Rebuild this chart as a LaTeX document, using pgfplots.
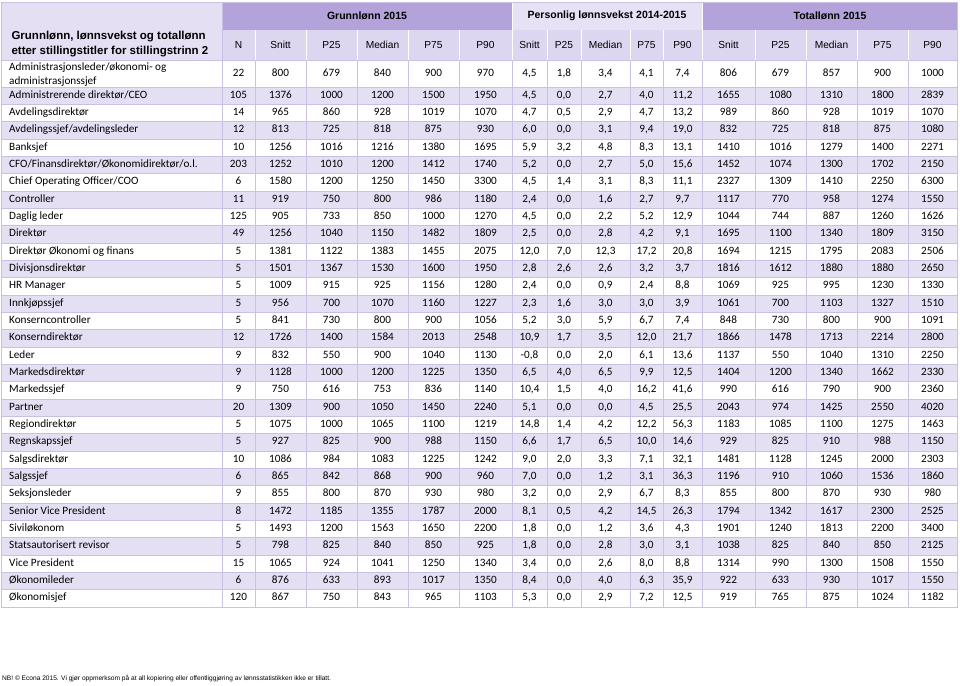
\documentclass[border=0pt]{standalone}
\usepackage{pgfplots}
\pgfplotsset{compat=1.18}
\usepackage{pgfplotstable}
\usepackage{fontspec}
\setmainfont{Carlito}
\newfontfamily\arial{Liberation Sans}
\definecolor{band}{HTML}{B3A3DA}
\definecolor{hdrbg}{HTML}{DDD6F0}
\definecolor{lhdr}{HTML}{E4DFF3}
\definecolor{lband}{HTML}{E6E1F4}
\definecolor{rowlav}{HTML}{E4DFF3}
\definecolor{gridc}{HTML}{C9C0E4}

\pgfplotstableread[col sep=semicolon]{
y;name;n;gs;gp25;gm;gp75;gp90;ps;pp25;pm;pp75;pp90;ts;tp25;tm;tp75;tp90
74;X;22;800;679;840;900;970;4,5;1,8;3,4;4,1;7,4;806;679;857;900;1000
95.7;Administrerende direktør/CEO;105;1376;1000;1200;1500;1950;4,5;0,0;2,7;4,0;11,2;1655;1080;1310;1800;2839
113.0;Avdelingsdirektør;14;965;860;928;1019;1070;4,7;0,5;2,9;4,7;13,2;989;860;928;1019;1070
130.3;Avdelingssjef/avdelingsleder;12;813;725;818;875;930;6,0;0,0;3,1;9,4;19,0;832;725;818;875;1080
147.7;Banksjef;10;1256;1016;1216;1380;1695;5,9;3,2;4,8;8,3;13,1;1410;1016;1279;1400;2271
165.0;CFO/Finansdirektør/Økonomidirektør/o.l.;203;1252;1010;1200;1412;1740;5,2;0,0;2,7;5,0;15,6;1452;1074;1300;1702;2150
182.3;Chief Operating Officer/COO;6;1580;1200;1250;1450;3300;4,5;1,4;3,1;8,3;11,1;2327;1309;1410;2250;6300
199.7;Controller;11;919;750;800;986;1180;2,4;0,0;1,6;2,7;9,7;1117;770;958;1274;1550
217.0;Daglig leder;125;905;733;850;1000;1270;4,5;0,0;2,2;5,2;12,9;1044;744;887;1260;1626
234.3;Direktør;49;1256;1040;1150;1482;1809;2,5;0,0;2,8;4,2;9,1;1695;1100;1340;1809;3150
251.7;Direktør Økonomi og finans;5;1381;1122;1383;1455;2075;12,0;7,0;12,3;17,2;20,8;1694;1215;1795;2083;2506
269.0;Divisjonsdirektør;5;1501;1367;1530;1600;1950;2,8;2,6;2,6;3,2;3,7;1816;1612;1880;1880;2650
286.3;HR Manager;5;1009;915;925;1156;1280;2,4;0,0;0,9;2,4;8,8;1069;925;995;1230;1330
303.7;Innkjøpssjef;5;956;700;1070;1160;1227;2,3;1,6;3,0;3,0;3,9;1061;700;1103;1327;1510
321.0;Konserncontroller;5;841;730;800;900;1056;5,2;3,0;5,9;6,7;7,4;848;730;800;900;1091
338.3;Konserndirektør;12;1726;1400;1584;2013;2548;10,9;1,7;3,5;12,0;21,7;1866;1478;1713;2214;2800
355.7;Leder;9;832;550;900;1040;1130;-0,8;0,0;2,0;6,1;13,6;1137;550;1040;1310;2250
373.0;Markedsdirektør;9;1128;1000;1200;1225;1350;6,5;4,0;6,5;9,9;12,5;1404;1200;1340;1662;2330
390.3;Markedssjef;9;750;616;753;836;1140;10,4;1,5;4,0;16,2;41,6;990;616;790;900;2360
407.7;Partner;20;1309;900;1050;1450;2240;5,1;0,0;0,0;4,5;25,5;2043;974;1425;2550;4020
425.0;Regiondirektør;5;1075;1000;1065;1100;1219;14,8;1,4;4,2;12,2;56,3;1183;1085;1100;1275;1463
442.3;Regnskapssjef;5;927;825;900;988;1150;6,6;1,7;6,5;10,0;14,6;929;825;910;988;1150
459.7;Salgsdirektør;10;1086;984;1083;1225;1242;9,0;2,0;3,3;7,1;32,1;1481;1128;1245;2000;2303
477.0;Salgssjef;6;865;842;868;900;960;7,0;0,0;1,2;3,1;36,3;1196;910;1060;1536;1860
494.3;Seksjonsleder;9;855;800;870;930;980;3,2;0,0;2,9;6,7;8,3;855;800;870;930;980
511.7;Senior Vice President;8;1472;1185;1355;1787;2000;8,1;0,5;4,2;14,5;26,3;1794;1342;1617;2300;2525
529.0;Siviløkonom;5;1493;1200;1563;1650;2200;1,8;0,0;1,2;3,6;4,3;1901;1240;1813;2200;3400
546.3;Statsautorisert revisor;5;798;825;840;850;925;1,8;0,0;2,8;3,0;3,1;1038;825;840;850;2125
563.7;Vice President;15;1065;924;1041;1250;1340;3,4;0,0;2,6;8,0;8,8;1314;990;1300;1508;1550
581.0;Økonomileder;6;876;633;893;1017;1350;8,4;0,0;4,0;6,3;35,9;922;633;930;1017;1550
598.3;Økonomisjef;120;867;750;843;965;1103;5,3;0,0;2,9;7,2;12,5;919;765;875;1024;1182
}\data

\newcommand\numfont{\fontsize{11.2}{13}\selectfont}
\newcommand\hdrfont{\arial\fontsize{10.2}{12}\selectfont}
\tikzset{colhead/.style={font=\hdrfont, inner sep=0pt, text height=0.72em, text depth=0.2em, anchor=center}}
\newcommand\col[2]{%
  \addplot[draw=none, mark=none, point meta=explicit symbolic,
    nodes near coords={\pgfplotspointmeta},
    every node near coord/.append style={anchor=center, inner sep=0pt,
      text height=0.68em, text depth=0.2em, font=\numfont, text=black}]
    table[x expr=#1, y=y, meta=#2] {\data};}

\begin{document}
\begin{tikzpicture}
\begin{axis}[width=960pt, height=685pt, scale only axis,
  xmin=0, xmax=960, ymin=0, ymax=685, y dir=reverse,
  hide axis, clip=false]
% backgrounds
\fill[white] (axis cs:0,0) rectangle (axis cs:960,685);
\fill[lhdr] (axis cs:1,2) rectangle (axis cs:222,60);
\fill[band] (axis cs:222,2) rectangle (axis cs:512,30);
\fill[lband] (axis cs:512,2) rectangle (axis cs:702,30);
\fill[band] (axis cs:702,2) rectangle (axis cs:957,30);
\fill[hdrbg] (axis cs:222,30) rectangle (axis cs:957,60);
\pgfplotsinvokeforeach{0,2,...,28}{%
  \fill[rowlav] (axis cs:1,{87+17.333*#1}) rectangle (axis cs:957,{87+17.333*(#1+1)});}
% grid
\pgfplotsinvokeforeach{0,...,30}{%
  \draw[gridc, line width=0.8pt] (axis cs:1,{87+17.333*#1}) -- (axis cs:957,{87+17.333*#1});}
\draw[gridc, line width=0.8pt] (axis cs:1,60) -- (axis cs:957,60);
\pgfplotsinvokeforeach{255,306,357,408,459,512,547,581,630,663,702,755,806,857,908}{%
  \draw[gridc, line width=0.8pt] (axis cs:#1,60) -- (axis cs:#1,607);
  \draw[white, line width=0.8pt] (axis cs:#1,30) -- (axis cs:#1,60);}
\draw[gridc, line width=0.8pt] (axis cs:222,2) -- (axis cs:222,607);
\draw[white, line width=0.8pt] (axis cs:512,2) -- (axis cs:512,30);
\draw[white, line width=0.8pt] (axis cs:702,2) -- (axis cs:702,30);
\draw[gridc, line width=0.8pt] (axis cs:1,2) rectangle (axis cs:957,607);
% header text
\node[anchor=west, font=\arial\bfseries\fontsize{11.5}{13}\selectfont] at (axis cs:8,37) {Grunnlønn, lønnsvekst og totallønn};
\node[anchor=west, font=\arial\bfseries\fontsize{11.5}{13}\selectfont] at (axis cs:8,51.5) {etter stillingstitler for stillingstrinn 2};
\node[font=\arial\bfseries\fontsize{10.5}{12}\selectfont] at (axis cs:367,16) {Grunnlønn 2015};
\node[font=\arial\bfseries\fontsize{10.5}{12}\selectfont] at (axis cs:607,16) {Personlig lønnsvekst 2014-2015};
\node[font=\arial\bfseries\fontsize{10.5}{12}\selectfont] at (axis cs:830,16) {Totallønn 2015};
\node[colhead] at (axis cs:238.5,45.5) {N};
\node[colhead] at (axis cs:280.5,45.5) {Snitt};
\node[colhead] at (axis cs:331.5,45.5) {P25};
\node[colhead] at (axis cs:382.5,45.5) {Median};
\node[colhead] at (axis cs:433.5,45.5) {P75};
\node[colhead] at (axis cs:485.5,45.5) {P90};
\node[colhead] at (axis cs:529.5,45.5) {Snitt};
\node[colhead] at (axis cs:564,45.5) {P25};
\node[colhead] at (axis cs:605.5,45.5) {Median};
\node[colhead] at (axis cs:646.5,45.5) {P75};
\node[colhead] at (axis cs:682.5,45.5) {P90};
\node[colhead] at (axis cs:728.5,45.5) {Snitt};
\node[colhead] at (axis cs:780.5,45.5) {P25};
\node[colhead] at (axis cs:831.5,45.5) {Median};
\node[colhead] at (axis cs:882.5,45.5) {P75};
\node[colhead] at (axis cs:932.5,45.5) {P90};
\node[anchor=west, font=\numfont, inner sep=0pt] at (axis cs:9,68) {Administrasjonsleder/økonomi- og};
\node[anchor=west, font=\numfont, inner sep=0pt] at (axis cs:9,81.5) {administrasjonssjef};
% data
\addplot[draw=none, mark=none, point meta=explicit symbolic,
  restrict y to domain=80:700,
  nodes near coords={\pgfplotspointmeta},
  every node near coord/.append style={anchor=west, inner sep=0pt,
    text height=0.68em, text depth=0.2em, font=\numfont, text=black}]
  table[x expr=9, y=y, meta=name] {\data};
\col{238.5}{n}
\col{280.5}{gs}
\col{331.5}{gp25}
\col{382.5}{gm}
\col{433.5}{gp75}
\col{485.5}{gp90}
\col{529.5}{ps}
\col{564}{pp25}
\col{605.5}{pm}
\col{646.5}{pp75}
\col{682.5}{pp90}
\col{728.5}{ts}
\col{780.5}{tp25}
\col{831.5}{tm}
\col{882.5}{tp75}
\col{932.5}{tp90}
% footer
\node[anchor=west, inner sep=0pt, font=\arial\fontsize{6.6}{8}\selectfont] at (axis cs:2,679) {NB! © Econa 2015. Vi gjør oppmerksom på at all kopiering eller offentliggjøring av lønnsstatistikken ikke er tillatt.};
\end{axis}
\end{tikzpicture}
\end{document}
